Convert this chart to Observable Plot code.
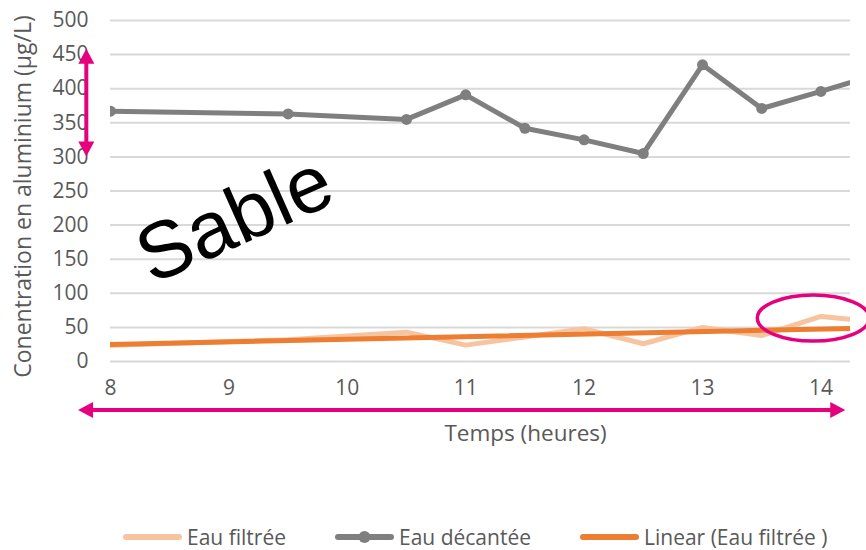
<!DOCTYPE html>
<html>
<head>
<meta charset="utf-8">
<script src="https://cdn.jsdelivr.net/npm/d3@7"></script>
<script src="https://cdn.jsdelivr.net/npm/@observablehq/plot@0.6"></script>
<style>
  body { margin: 0; background: #fff; font-family: "Open Sans", sans-serif; }
  #wrap { position: relative; width: 866px; height: 550px; }
  #legend { position: absolute; left: 0; top: 520px; width: 866px; height: 34px; }
  .li { position: absolute; top: 0; height: 34px; display: flex; align-items: center; font-size: 21px; color: #595959; white-space: nowrap; }
  .li svg { margin-right: 5px; }
</style>
</head>
<body>
<div id="wrap"><div id="chart"></div><div id="legend"></div></div>
<script>
// ---- data ----
const hours = [8, 9.5, 10.5, 11, 11.5, 12, 12.5, 13, 13.5, 14, 14.5];
const eauDecantee = [367, 363, 355, 391, 342, 325, 305, 435, 371, 396, 422];
const eauFiltree = [24, 32, 43, 24, 36, 48, 26, 50, 38, 66, 58];
const trendHours = [8, 14.5];
const trendValues = [25, 49.5];
const xTicks = [8, 9, 10, 11, 12, 13, 14];
const yTicks = [0, 50, 100, 150, 200, 250, 300, 350, 400, 450, 500];
const seriesNames = ["Eau filtrée", "Eau décantée", "Linear (Eau filtrée )"];
const colors = ["#f7c4a1", "#7f7f7f", "#ed7d31"];
const xLabel = "Temps (heures)";
const yLabel = "Conentration en aluminium (µg/L)";
const annotationText = "Sable";
// annotation anchors in data units
const vArrow = {x: 7.8, y1: 300, y2: 458};
const hArrow = {y: -72, x1: 7.73, x2: 14.21};
const ellipse = {x: 13.94, y: 63};
const sableAnchor = {x: 9.05, y: 208};

const decData = hours.map((h, i) => ({h, v: eauDecantee[i]}));
const filData = hours.map((h, i) => ({h, v: eauFiltree[i]}));
const trendData = trendHours.map((h, i) => ({h, v: trendValues[i]}));

const plot = Plot.plot({
  width: 866, height: 520,
  marginTop: 20, marginBottom: 159, marginLeft: 110, marginRight: 16,
  style: {fontFamily: "Open Sans, sans-serif", fontSize: "21px", color: "#595959", background: "transparent"},
  x: {domain: [8, 14.25], label: null},
  y: {domain: [0, 500], label: null},
  marks: [
    Plot.gridY(yTicks, {stroke: "#d9d9d9", strokeOpacity: 1, strokeWidth: 2}),
    Plot.line(filData, {x: "h", y: "v", stroke: colors[0], strokeWidth: 5, clip: true}),
    Plot.line(trendData, {x: "h", y: "v", stroke: colors[2], strokeWidth: 5, clip: true}),
    Plot.line(decData, {x: "h", y: "v", stroke: colors[1], strokeWidth: 5, clip: true}),
    Plot.dot(decData, {x: "h", y: "v", fill: colors[1], r: 5.5, clip: true}),
    Plot.axisX({ticks: xTicks, tickFormat: d3.format("d"), tickSize: 0, tickPadding: 19, fontSize: 21, label: null}),
    Plot.axisY({ticks: yTicks, tickSize: 0, tickPadding: 22, fontSize: 21, label: null}),
    Plot.text([xLabel], {frameAnchor: "bottom", dy: 79, dx: 45, fontSize: 22.5, fill: "#595959"}),
    Plot.text([annotationText], {x: () => sableAnchor.x, y: () => sableAnchor.y, rotate: -24, fontSize: 80, fill: "#000", fontFamily: "Liberation Sans, Arial, sans-serif"})
  ]
});
document.getElementById("chart").appendChild(plot);

// annotations via plot scales
const svg = d3.select(plot);
const xs = plot.scale("x"), ys = plot.scale("y");
const X = v => xs.apply(v), Y = v => ys.apply(v);
const pink = "#e6007e";

// y axis label
svg.append("text").attr("transform", `translate(22,${(15 + 378) / 2}) rotate(-90)`)
  .attr("text-anchor", "middle").attr("dominant-baseline", "central")
  .attr("font-size", 23).attr("fill", "#595959").attr("font-family", "Open Sans, sans-serif").text(yLabel);

function dblArrow(x1, y1, x2, y2) {
  const g = svg.append("g");
  const dx = x2 - x1, dy = y2 - y1, L = Math.hypot(dx, dy);
  const ux = dx / L, uy = dy / L, px = -uy, py = ux;
  const hl = 15, hw = 8;
  g.append("line").attr("x1", x1 + ux * hl * 0.8).attr("y1", y1 + uy * hl * 0.8)
    .attr("x2", x2 - ux * hl * 0.8).attr("y2", y2 - uy * hl * 0.8)
    .attr("stroke", pink).attr("stroke-width", 4);
  const head = (tx, ty, s) => {
    const bx = tx - s * ux * hl, by = ty - s * uy * hl;
    g.append("polygon").attr("points",
      `${tx},${ty} ${bx + px * hw},${by + py * hw} ${bx - px * hw},${by - py * hw}`).attr("fill", pink);
  };
  head(x1, y1, -1); head(x2, y2, 1);
}
dblArrow(X(vArrow.x), Y(vArrow.y2), X(vArrow.x), Y(vArrow.y1));
dblArrow(X(hArrow.x1), Y(hArrow.y), X(hArrow.x2), Y(hArrow.y));
svg.append("ellipse").attr("cx", X(ellipse.x)).attr("cy", Y(ellipse.y)).attr("rx", 56).attr("ry", 23)
  .attr("fill", "none").attr("stroke", pink).attr("stroke-width", 3.5);
svg.attr("overflow", "visible");

// legend
const legendPos = [{sw: 123, w: 59}, {sw: 335, w: 59}, {sw: 580, w: 59}];
const leg = document.getElementById("legend");
seriesNames.forEach((name, i) => {
  const d = document.createElement("div");
  d.className = "li";
  d.style.left = legendPos[i].sw + "px";
  const w = legendPos[i].w;
  d.innerHTML = `<svg width="${w}" height="14"><line x1="3" y1="7" x2="${w - 3}" y2="7" stroke="${colors[i]}" stroke-width="6" stroke-linecap="round"/>${i === 1 ? `<circle cx="${w / 2}" cy="7" r="6" fill="${colors[1]}"/>` : ""}</svg><span>${name}</span>`;
  leg.appendChild(d);
});
</script>
</body>
</html>
